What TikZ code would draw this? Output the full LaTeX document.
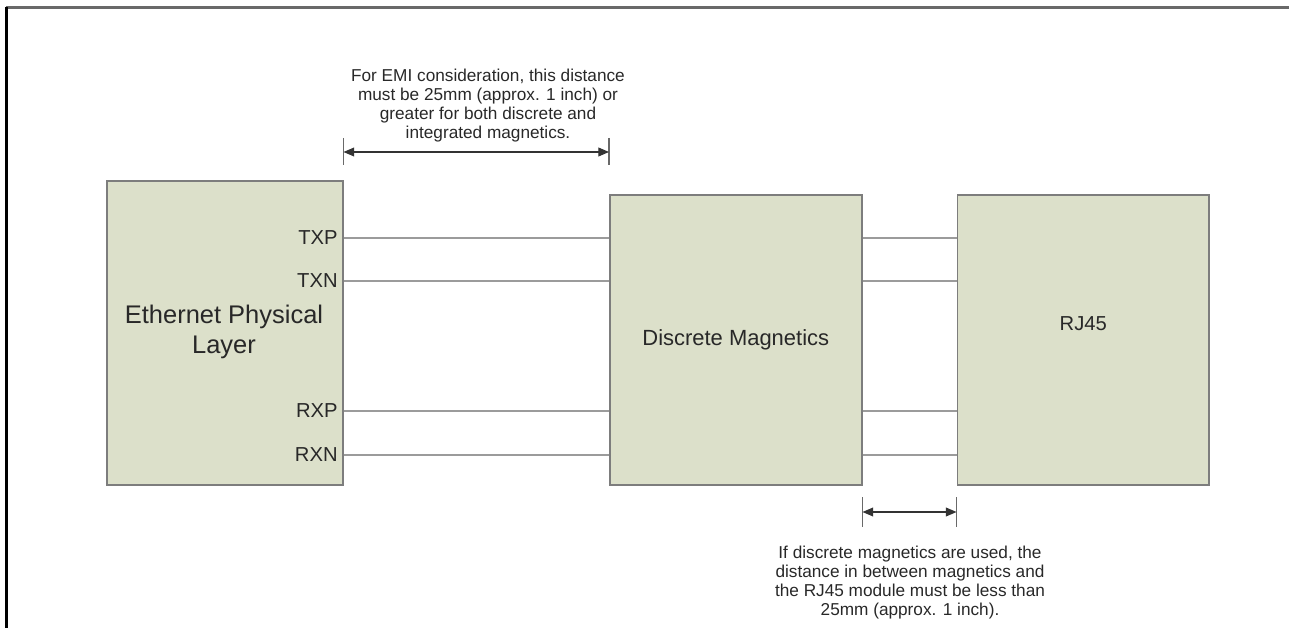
\documentclass[tikz,border=0pt]{standalone}
\usepackage{fontspec}
\setmainfont{Liberation Sans}
\usetikzlibrary{arrows.meta,positioning,calc}
\definecolor{blockfill}{RGB}{220,224,202}
\definecolor{blockedge}{RGB}{125,125,125}
\definecolor{wiregray}{RGB}{155,155,155}
\definecolor{framegray}{RGB}{105,105,105}
\definecolor{textgray}{RGB}{40,40,40}

\begin{document}
\begin{tikzpicture}[x=0.02cm, y=-0.02cm,
    every node/.style={font=\fontsize{9.8}{10.8}\selectfont, text=textgray},
    block/.style={draw=blockedge, line width=0.9pt, fill=blockfill, inner sep=0pt},
    pinlbl/.style={anchor=east, inner sep=0pt, font=\fontsize{11.5}{12}\selectfont},
    wire/.style={wiregray, line width=0.9pt},
    tick/.style={framegray, line width=0.7pt},
    dimline/.style={black!80, line width=0.6pt,
      {Triangle[length=6pt,width=5pt]}-{Triangle[length=6pt,width=5pt]}},
    note/.style={align=center, inner sep=0pt}]
  \useasboundingbox (0,0) rectangle (1289,628);
  \draw[framegray, line width=1.4pt] (6,7.5) -- (1289,7.5);
  \draw[black, line width=1.4pt] (6.5,7) -- (6.5,628);

  \node[block, anchor=north west, minimum width=4.72cm, minimum height=6.08cm] (phy) at (106,180) {};
  \node[align=center, font=\fontsize{14.5}{17}\selectfont] (phylbl) at (224,332) {Ethernet Physical\\Layer};
  \node[block, anchor=north west, minimum width=5.04cm, minimum height=5.8cm,
        font=\fontsize{12.5}{14}\selectfont] (mag) at (609,194) {Discrete Magnetics};
  \node[block, right=1.88cm of mag, minimum width=5.04cm, minimum height=5.8cm] (rj) {};
  \node[font=\fontsize{11.5}{13}\selectfont] (rjlbl) at ($(rj.center)+(0,-16)$) {RJ45};

  \node[pinlbl] (txp) at (338,238) {TXP};
  \node[pinlbl] (txn) at (338,281) {TXN};
  \node[pinlbl] (rxp) at (338,411) {RXP};
  \node[pinlbl] (rxn) at (338,455) {RXN};
  \foreach \p in {txp,txn,rxp,rxn} {
    \draw[wire] (phy.east |- \p) -- (mag.west |- \p);
    \draw[wire] (mag.east |- \p) -- (rj.west |- \p);
  }

  \coordinate (emiL) at (phy.east |- 0,152);
  \coordinate (emiR) at (mag.west |- 0,152);
  \draw[tick] ($(emiL)+(0,-14)$) -- ($(emiL)+(0,13)$);
  \draw[tick] ($(emiR)+(0,-14)$) -- ($(emiR)+(0,13)$);
  \draw[dimline] (emiL) -- (emiR);
  \node[note] (emitxt) at (488,106) {For EMI consideration, this distance\\
    must be 25mm (approx. 1 inch) or\\greater for both discrete and\\integrated magnetics.};

  \coordinate (gapL) at (mag.east |- 0,512);
  \coordinate (gapR) at (rj.west |- 0,512);
  \draw[tick] ($(gapL)+(0,-15)$) -- ($(gapL)+(0,15)$);
  \draw[tick] ($(gapR)+(0,-15)$) -- ($(gapR)+(0,15)$);
  \draw[dimline] (gapL) -- (gapR);
  \node[note] (gaptxt) at (910,583) {If discrete magnetics are used, the\\
    distance in between magnetics and\\the RJ45 module must be less than\\25mm (approx. 1 inch).};
\end{tikzpicture}
\end{document}
